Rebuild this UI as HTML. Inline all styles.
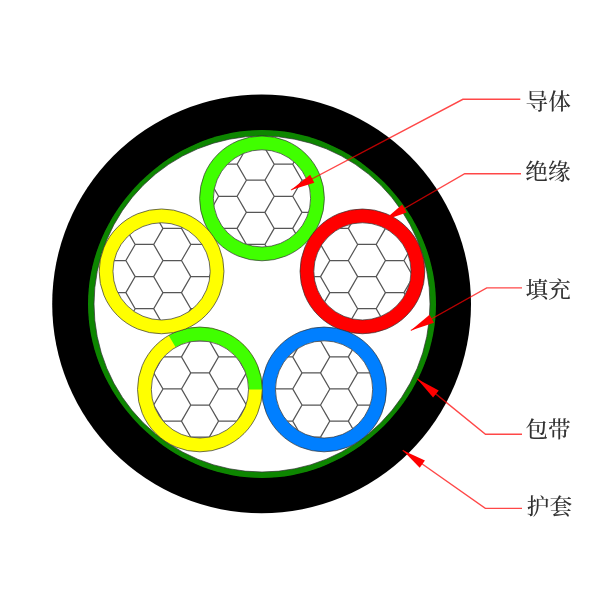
<!DOCTYPE html>
<html lang="zh-CN">
<head>
<meta charset="utf-8">
<title>电缆结构示意图</title>
<style>
html,body{margin:0;padding:0;background:#fff;}
body{width:600px;height:600px;overflow:hidden;}
svg{display:block;}
text{font-family:"Liberation Serif","Noto Serif CJK SC",serif;font-size:22.6px;fill:#333;font-weight:500;}
</style>
</head>
<body>
<svg width="600" height="600" viewBox="0 0 600 600">
<defs>
<filter id="soft" x="0" y="0" width="600" height="600" filterUnits="userSpaceOnUse"><feGaussianBlur stdDeviation="0.55"/></filter>
<clipPath id="c0"><circle cx="262" cy="198.4" r="48.6"/></clipPath>
<clipPath id="c1"><circle cx="362.43" cy="271.37" r="48.6"/></clipPath>
<clipPath id="c2"><circle cx="324.07" cy="389.43" r="48.6"/></clipPath>
<clipPath id="c3"><circle cx="199.93" cy="389.43" r="48.6"/></clipPath>
<clipPath id="c4"><circle cx="161.57" cy="271.37" r="48.6"/></clipPath>
</defs>
<rect width="600" height="600" fill="#fff"/>
<g filter="url(#soft)">
<circle cx="261.6" cy="303.9" r="209.4" fill="#000"/>
<polygon points="436,304 435.82,311.59 435.29,319.16 434.41,326.7 433.17,334.18 431.6,341.6 429.68,348.93 427.44,356.16 424.89,363.29 422.02,370.28 418.85,377.14 415.39,383.85 411.65,390.4 407.64,396.78 403.38,402.99 398.86,409.02 394.1,414.85 389.12,420.48 383.91,425.91 378.48,431.12 372.85,436.1 367.02,440.86 360.99,445.38 354.78,449.64 348.4,453.65 341.85,457.39 335.14,460.85 328.28,464.02 321.29,466.89 314.16,469.44 306.93,471.68 299.6,473.6 292.18,475.17 284.7,476.41 277.16,477.29 269.59,477.82 262,478 254.41,477.82 246.84,477.29 239.3,476.41 231.82,475.17 224.4,473.6 217.07,471.68 209.84,469.44 202.71,466.89 195.72,464.02 188.86,460.85 182.15,457.39 175.6,453.65 169.22,449.64 163.01,445.38 156.98,440.86 151.15,436.1 145.52,431.12 140.09,425.91 134.88,420.48 129.9,414.85 125.14,409.02 120.62,402.99 116.36,396.78 112.35,390.4 108.61,383.85 105.15,377.14 101.98,370.28 99.11,363.29 96.56,356.16 94.32,348.93 92.4,341.6 90.83,334.18 89.59,326.7 88.71,319.16 88.18,311.59 88,304 88.18,296.41 88.71,288.84 89.59,281.3 90.83,273.82 92.4,266.4 94.32,259.07 96.56,251.84 99.11,244.71 101.98,237.72 105.15,230.86 108.61,224.15 112.35,217.6 116.36,211.22 120.62,205.01 125.14,198.98 129.9,193.15 134.88,187.52 140.09,182.09 145.52,176.88 151.15,171.9 156.98,167.14 163.01,162.62 169.22,158.36 175.6,154.35 182.15,150.61 188.86,147.15 195.72,143.98 202.71,141.11 209.84,138.56 217.07,136.32 224.4,134.4 231.82,132.83 239.3,131.59 246.84,130.71 254.41,130.18 262,130 269.59,130.18 277.16,130.71 284.7,131.59 292.18,132.83 299.6,134.4 306.93,136.32 314.16,138.56 321.29,141.11 328.28,143.98 335.14,147.15 341.85,150.61 348.4,154.35 354.78,158.36 360.99,162.62 367.02,167.14 372.85,171.9 378.48,176.88 383.91,182.09 389.12,187.52 394.1,193.15 398.86,198.98 403.38,205.01 407.64,211.22 411.65,217.6 415.39,224.15 418.85,230.86 422.02,237.72 424.89,244.71 427.44,251.84 429.68,259.07 431.6,266.4 433.17,273.82 434.41,281.3 435.29,288.84 435.82,296.41" fill="#0e8604"/>
<circle cx="262" cy="304" r="168" fill="#fff" stroke="#303030" stroke-width="0.7"/>
<circle cx="262" cy="198.4" r="62.4" fill="#3fff00"/>
<circle cx="262" cy="198.4" r="62.4" fill="none" stroke="#303030" stroke-width="0.7"/>
<circle cx="262" cy="198.4" r="48.6" fill="#fff" stroke="#303030" stroke-width="0.7"/>
<path clip-path="url(#c0)" d="M190.76 148.13L209.3 148.13L218.57 164.19L209.3 180.24M190.76 180.24L209.3 180.24L218.57 196.3L209.3 212.36M190.76 212.36L209.3 212.36L218.57 228.41L209.3 244.47M218.57 132.08L237.11 132.08L246.38 148.13L237.11 164.19M218.57 164.19L237.11 164.19L246.38 180.24L237.11 196.3M218.57 196.3L237.11 196.3L246.38 212.36L237.11 228.41M218.57 228.41L237.11 228.41L246.38 244.47L237.11 260.52M218.57 260.52L237.11 260.52L246.38 276.58L237.11 292.64M246.38 116.02L264.92 116.02L274.19 132.08L264.92 148.13M246.38 148.13L264.92 148.13L274.19 164.19L264.92 180.24M246.38 180.24L264.92 180.24L274.19 196.3L264.92 212.36M246.38 212.36L264.92 212.36L274.19 228.41L264.92 244.47M246.38 244.47L264.92 244.47L274.19 260.52L264.92 276.58M274.19 99.96L292.73 99.96L302 116.02L292.73 132.08M274.19 132.08L292.73 132.08L302 148.13L292.73 164.19M274.19 164.19L292.73 164.19L302 180.24L292.73 196.3M274.19 196.3L292.73 196.3L302 212.36L292.73 228.41M274.19 228.41L292.73 228.41L302 244.47L292.73 260.52M274.19 260.52L292.73 260.52L302 276.58L292.73 292.64M302 116.02L320.54 116.02L329.81 132.08L320.54 148.13M302 148.13L320.54 148.13L329.81 164.19L320.54 180.24M302 180.24L320.54 180.24L329.81 196.3L320.54 212.36M302 212.36L320.54 212.36L329.81 228.41L320.54 244.47M302 244.47L320.54 244.47L329.81 260.52L320.54 276.58M329.81 164.19L348.35 164.19L357.62 180.24L348.35 196.3M329.81 196.3L348.35 196.3L357.62 212.36L348.35 228.41" fill="none" stroke="#565656" stroke-width="1.25"/>
<circle cx="362.43" cy="271.37" r="62.4" fill="#ff0000"/>
<circle cx="362.43" cy="271.37" r="62.4" fill="none" stroke="#303030" stroke-width="0.7"/>
<circle cx="362.43" cy="271.37" r="48.6" fill="#fff" stroke="#303030" stroke-width="0.7"/>
<path clip-path="url(#c1)" d="M274.19 228.41L292.73 228.41L302 244.47L292.73 260.52M274.19 260.52L292.73 260.52L302 276.58L292.73 292.64M302 212.36L320.54 212.36L329.81 228.41L320.54 244.47M302 244.47L320.54 244.47L329.81 260.52L320.54 276.58M302 276.58L320.54 276.58L329.81 292.64L320.54 308.69M302 308.69L320.54 308.69L329.81 324.75L320.54 340.8M329.81 196.3L348.35 196.3L357.62 212.36L348.35 228.41M329.81 228.41L348.35 228.41L357.62 244.47L348.35 260.52M329.81 260.52L348.35 260.52L357.62 276.58L348.35 292.64M329.81 292.64L348.35 292.64L357.62 308.69L348.35 324.75M329.81 324.75L348.35 324.75L357.62 340.8L348.35 356.86M357.62 180.24L376.16 180.24L385.43 196.3L376.16 212.36M357.62 212.36L376.16 212.36L385.43 228.41L376.16 244.47M357.62 244.47L376.16 244.47L385.43 260.52L376.16 276.58M357.62 276.58L376.16 276.58L385.43 292.64L376.16 308.69M357.62 308.69L376.16 308.69L385.43 324.75L376.16 340.8M357.62 340.8L376.16 340.8L385.43 356.86L376.16 372.92M385.43 196.3L403.97 196.3L413.24 212.36L403.97 228.41M385.43 228.41L403.97 228.41L413.24 244.47L403.97 260.52M385.43 260.52L403.97 260.52L413.24 276.58L403.97 292.64M385.43 292.64L403.97 292.64L413.24 308.69L403.97 324.75M385.43 324.75L403.97 324.75L413.24 340.8L403.97 356.86M413.24 212.36L431.78 212.36L441.05 228.41L431.78 244.47M413.24 244.47L431.78 244.47L441.05 260.52L431.78 276.58M413.24 276.58L431.78 276.58L441.05 292.64L431.78 308.69M413.24 308.69L431.78 308.69L441.05 324.75L431.78 340.8" fill="none" stroke="#565656" stroke-width="1.25"/>
<circle cx="324.07" cy="389.43" r="62.4" fill="#007fff"/>
<circle cx="324.07" cy="389.43" r="62.4" fill="none" stroke="#303030" stroke-width="0.7"/>
<circle cx="324.07" cy="389.43" r="48.6" fill="#fff" stroke="#303030" stroke-width="0.7"/>
<path clip-path="url(#c2)" d="M246.38 340.8L264.92 340.8L274.19 356.86L264.92 372.92M246.38 372.92L264.92 372.92L274.19 388.97L264.92 405.03M246.38 405.03L264.92 405.03L274.19 421.09L264.92 437.14M274.19 324.75L292.73 324.75L302 340.8L292.73 356.86M274.19 356.86L292.73 356.86L302 372.92L292.73 388.97M274.19 388.97L292.73 388.97L302 405.03L292.73 421.09M274.19 421.09L292.73 421.09L302 437.14L292.73 453.2M302 308.69L320.54 308.69L329.81 324.75L320.54 340.8M302 340.8L320.54 340.8L329.81 356.86L320.54 372.92M302 372.92L320.54 372.92L329.81 388.97L320.54 405.03M302 405.03L320.54 405.03L329.81 421.09L320.54 437.14M302 437.14L320.54 437.14L329.81 453.2L320.54 469.25M329.81 292.64L348.35 292.64L357.62 308.69L348.35 324.75M329.81 324.75L348.35 324.75L357.62 340.8L348.35 356.86M329.81 356.86L348.35 356.86L357.62 372.92L348.35 388.97M329.81 388.97L348.35 388.97L357.62 405.03L348.35 421.09M329.81 421.09L348.35 421.09L357.62 437.14L348.35 453.2M329.81 453.2L348.35 453.2L357.62 469.25L348.35 485.31M357.62 308.69L376.16 308.69L385.43 324.75L376.16 340.8M357.62 340.8L376.16 340.8L385.43 356.86L376.16 372.92M357.62 372.92L376.16 372.92L385.43 388.97L376.16 405.03M357.62 405.03L376.16 405.03L385.43 421.09L376.16 437.14M357.62 437.14L376.16 437.14L385.43 453.2L376.16 469.25M385.43 356.86L403.97 356.86L413.24 372.92L403.97 388.97M385.43 388.97L403.97 388.97L413.24 405.03L403.97 421.09M385.43 421.09L403.97 421.09L413.24 437.14L403.97 453.2" fill="none" stroke="#565656" stroke-width="1.25"/>
<circle cx="199.93" cy="389.43" r="62.4" fill="#ffff00"/>
<path d="M168.73 335.39A62.4 62.4 0 0 1 262.33 389.43L248.53 389.43A48.6 48.6 0 0 0 175.63 347.34Z" fill="#3fff00"/>
<circle cx="199.93" cy="389.43" r="62.4" fill="none" stroke="#303030" stroke-width="0.7"/>
<circle cx="199.93" cy="389.43" r="48.6" fill="#fff" stroke="#303030" stroke-width="0.7"/>
<path clip-path="url(#c3)" d="M107.33 356.86L125.87 356.86L135.14 372.92L125.87 388.97M107.33 388.97L125.87 388.97L135.14 405.03L125.87 421.09M135.14 308.69L153.68 308.69L162.95 324.75L153.68 340.8M135.14 340.8L153.68 340.8L162.95 356.86L153.68 372.92M135.14 372.92L153.68 372.92L162.95 388.97L153.68 405.03M135.14 405.03L153.68 405.03L162.95 421.09L153.68 437.14M135.14 437.14L153.68 437.14L162.95 453.2L153.68 469.25M162.95 292.64L181.49 292.64L190.76 308.69L181.49 324.75M162.95 324.75L181.49 324.75L190.76 340.8L181.49 356.86M162.95 356.86L181.49 356.86L190.76 372.92L181.49 388.97M162.95 388.97L181.49 388.97L190.76 405.03L181.49 421.09M162.95 421.09L181.49 421.09L190.76 437.14L181.49 453.2M162.95 453.2L181.49 453.2L190.76 469.25L181.49 485.31M190.76 308.69L209.3 308.69L218.57 324.75L209.3 340.8M190.76 340.8L209.3 340.8L218.57 356.86L209.3 372.92M190.76 372.92L209.3 372.92L218.57 388.97L209.3 405.03M190.76 405.03L209.3 405.03L218.57 421.09L209.3 437.14M190.76 437.14L209.3 437.14L218.57 453.2L209.3 469.25M218.57 292.64L237.11 292.64L246.38 308.69L237.11 324.75M218.57 324.75L237.11 324.75L246.38 340.8L237.11 356.86M218.57 356.86L237.11 356.86L246.38 372.92L237.11 388.97M218.57 388.97L237.11 388.97L246.38 405.03L237.11 421.09M218.57 421.09L237.11 421.09L246.38 437.14L237.11 453.2M218.57 453.2L237.11 453.2L246.38 469.25L237.11 485.31M246.38 308.69L264.92 308.69L274.19 324.75L264.92 340.8M246.38 340.8L264.92 340.8L274.19 356.86L264.92 372.92M246.38 372.92L264.92 372.92L274.19 388.97L264.92 405.03M246.38 405.03L264.92 405.03L274.19 421.09L264.92 437.14M246.38 437.14L264.92 437.14L274.19 453.2L264.92 469.25M274.19 356.86L292.73 356.86L302 372.92L292.73 388.97M274.19 388.97L292.73 388.97L302 405.03L292.73 421.09" fill="none" stroke="#565656" stroke-width="1.25"/>
<circle cx="161.57" cy="271.37" r="62.4" fill="#ffff00"/>
<circle cx="161.57" cy="271.37" r="62.4" fill="none" stroke="#303030" stroke-width="0.7"/>
<circle cx="161.57" cy="271.37" r="48.6" fill="#fff" stroke="#303030" stroke-width="0.7"/>
<path clip-path="url(#c4)" d="M79.52 212.36L98.06 212.36L107.33 228.41L98.06 244.47M79.52 244.47L98.06 244.47L107.33 260.52L98.06 276.58M79.52 276.58L98.06 276.58L107.33 292.64L98.06 308.69M107.33 196.3L125.87 196.3L135.14 212.36L125.87 228.41M107.33 228.41L125.87 228.41L135.14 244.47L125.87 260.52M107.33 260.52L125.87 260.52L135.14 276.58L125.87 292.64M107.33 292.64L125.87 292.64L135.14 308.69L125.87 324.75M107.33 324.75L125.87 324.75L135.14 340.8L125.87 356.86M135.14 180.24L153.68 180.24L162.95 196.3L153.68 212.36M135.14 212.36L153.68 212.36L162.95 228.41L153.68 244.47M135.14 244.47L153.68 244.47L162.95 260.52L153.68 276.58M135.14 276.58L153.68 276.58L162.95 292.64L153.68 308.69M135.14 308.69L153.68 308.69L162.95 324.75L153.68 340.8M162.95 196.3L181.49 196.3L190.76 212.36L181.49 228.41M162.95 228.41L181.49 228.41L190.76 244.47L181.49 260.52M162.95 260.52L181.49 260.52L190.76 276.58L181.49 292.64M162.95 292.64L181.49 292.64L190.76 308.69L181.49 324.75M162.95 324.75L181.49 324.75L190.76 340.8L181.49 356.86M190.76 180.24L209.3 180.24L218.57 196.3L209.3 212.36M190.76 212.36L209.3 212.36L218.57 228.41L209.3 244.47M190.76 244.47L209.3 244.47L218.57 260.52L209.3 276.58M190.76 276.58L209.3 276.58L218.57 292.64L209.3 308.69M190.76 308.69L209.3 308.69L218.57 324.75L209.3 340.8M218.57 228.41L237.11 228.41L246.38 244.47L237.11 260.52M218.57 260.52L237.11 260.52L246.38 276.58L237.11 292.64M218.57 292.64L237.11 292.64L246.38 308.69L237.11 324.75" fill="none" stroke="#565656" stroke-width="1.25"/>
<polyline points="291,190 462.9,99.3 520.3,99.3" fill="none" stroke="#ff0000" stroke-opacity="0.72" stroke-width="1.4"/>
<polygon points="291,190 314.33,182.78 310.13,174.82" fill="#ff0000"/>
<polyline points="383.7,220.5 464.7,173.75 521,173.75" fill="none" stroke="#ff0000" stroke-opacity="0.72" stroke-width="1.4"/>
<polygon points="383.7,220.5 406.74,212.4 402.24,204.61" fill="#ff0000"/>
<polyline points="410.8,330.5 486.7,287.9 522,287.9" fill="none" stroke="#ff0000" stroke-opacity="0.72" stroke-width="1.4"/>
<polygon points="410.8,330.5 433.93,322.68 429.53,314.83" fill="#ff0000"/>
<polyline points="417.3,378.9 485.5,434.3 522,434.3" fill="none" stroke="#ff0000" stroke-opacity="0.72" stroke-width="1.4"/>
<polygon points="417.3,378.9 433.09,397.52 438.77,390.54" fill="#ff0000"/>
<polyline points="402.7,450.3 485.3,508.4 522,508.4" fill="none" stroke="#ff0000" stroke-opacity="0.72" stroke-width="1.4"/>
<polygon points="402.7,450.3 419.74,467.79 424.92,460.43" fill="#ff0000"/>
<g>
<text transform="translate(525.6,108.7) scale(1,0.96)">导体</text>
<text transform="translate(525.3,178.5) scale(1,0.96)">绝缘</text>
<text transform="translate(525.6,297.4) scale(1,0.96)">填充</text>
<text transform="translate(525.4,437.4) scale(1,0.96)">包带</text>
<text transform="translate(526.8,513.7) scale(1,0.96)">护套</text>
</g>
</g>
</svg>
</body>
</html>
